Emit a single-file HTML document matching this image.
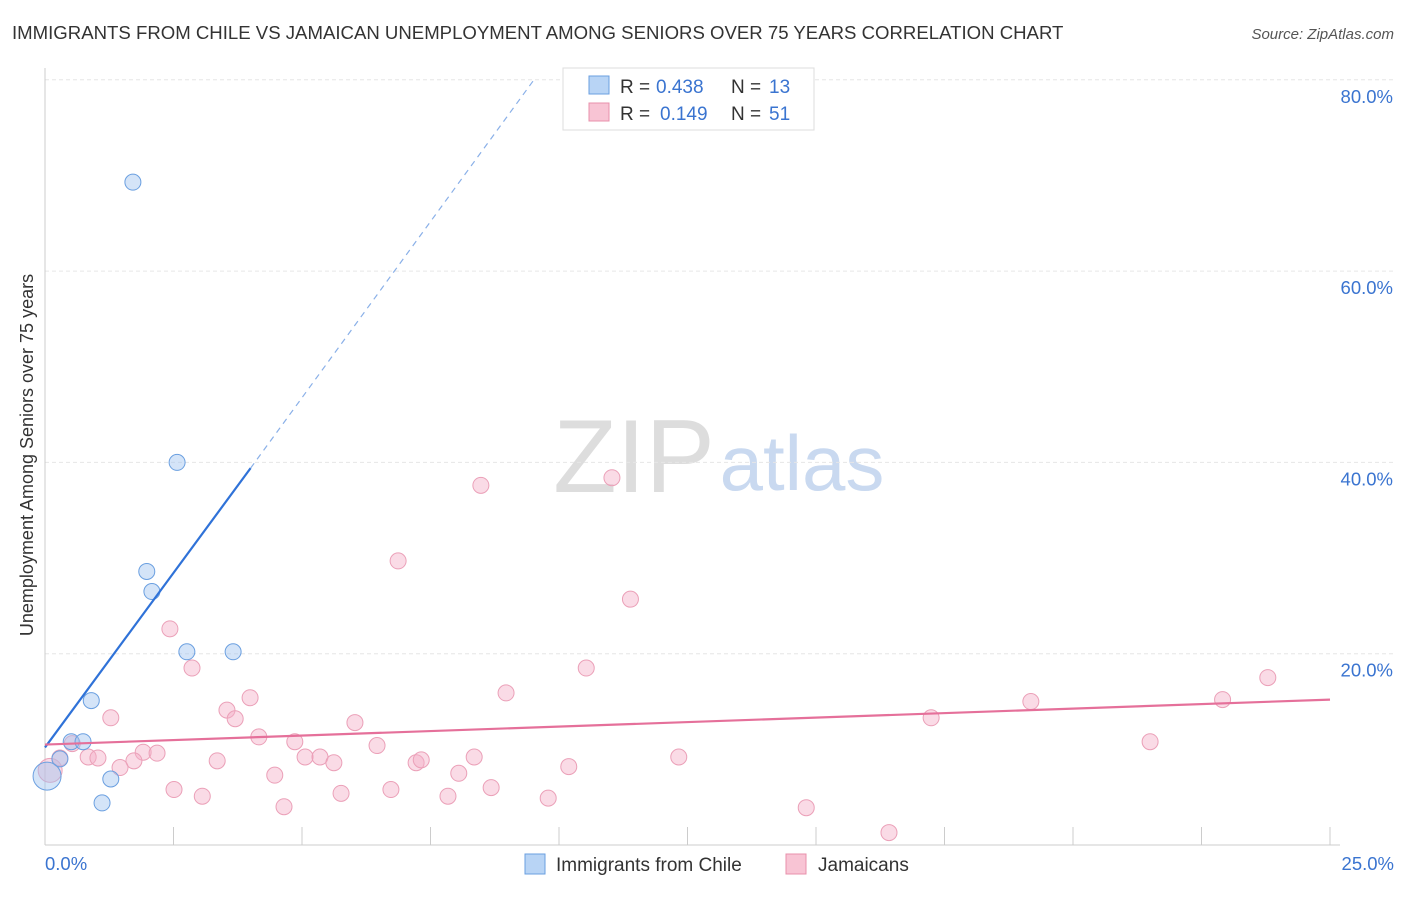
<!DOCTYPE html>
<html><head><meta charset="utf-8"><style>
body{margin:0;background:#fff;font-family:"Liberation Sans",sans-serif;}
svg text{font-family:"Liberation Sans",sans-serif;}
</style></head><body>
<svg id="c" width="1406" height="892" xmlns="http://www.w3.org/2000/svg">
<text x="12" y="39" font-size="18.6" fill="#333">IMMIGRANTS FROM CHILE VS JAMAICAN UNEMPLOYMENT AMONG SENIORS OVER 75 YEARS CORRELATION CHART</text>
<text x="1394" y="39" font-size="15" fill="#555" font-style="italic" text-anchor="end">Source: ZipAtlas.com</text>
<text x="634" y="492" font-size="104" fill="#ddd" font-family="Liberation Serif" text-anchor="middle">ZIP</text>
<text x="802" y="490" font-size="78" fill="#c9d9f0" text-anchor="middle">atlas</text>
<text transform="translate(33,455) rotate(-90)" font-size="18" fill="#333" text-anchor="middle">Unemployment Among Seniors over 75 years</text>
<g id="grid"></g><g id="marks"></g>
<g>
<rect x="563" y="68" width="251" height="62" fill="#fff" stroke="#ddd"/>
<rect x="589" y="76" width="20" height="18" fill="#b8d4f5" stroke="#6a9fe0"/>
<text x="620" y="93" font-size="19" fill="#333">R =</text>
<text x="656" y="93" font-size="19" fill="#3a74d0">0.438</text>
<text x="731" y="93" font-size="19" fill="#333">N =</text>
<text x="769" y="93" font-size="19" fill="#3a74d0">13</text>
<rect x="589" y="103" width="20" height="18" fill="#f8c4d4" stroke="#e890ab"/>
<text x="620" y="120" font-size="19" fill="#333">R =</text>
<text x="660" y="120" font-size="19" fill="#3a74d0">0.149</text>
<text x="731" y="120" font-size="19" fill="#333">N =</text>
<text x="769" y="120" font-size="19" fill="#3a74d0">51</text>
</g>
<g>
<rect x="525" y="854" width="20" height="20" fill="#b8d4f5" stroke="#6a9fe0"/>
<text x="556" y="871" font-size="19" fill="#333">Immigrants from Chile</text>
<rect x="786" y="854" width="20" height="20" fill="#f8c4d4" stroke="#e890ab"/>
<text x="818" y="871" font-size="19" fill="#333">Jamaicans</text>
</g>
</svg>
<script>
const yTicks=[20,40,60,80];
const xTicks=[0,2.5,5,7.5,10,12.5,15,17.5,20,22.5,25];
const chileX=[1.71,2.57,1.98,2.08,2.76,3.66,0.90,0.51,0.74,0.29,1.28,1.11,0.04];
const chileY=[69.3,40.0,28.6,26.5,20.2,20.2,15.1,10.8,10.8,9.0,6.9,4.4,7.2];
const chileR=[8,8,8,8,8,8,8,8,8,8,8,8,14];
const jamX=[8.48,11.03,6.87,11.39,2.43,2.86,10.53,3.99,8.97,1.28,3.54,3.70,6.03,23.79,22.91,19.18,17.24,21.50,4.16,4.86,6.46,0.53,1.91,2.18,0.84,1.03,5.06,5.35,1.73,3.35,5.62,7.22,7.32,8.35,1.46,10.19,12.33,4.47,8.05,2.51,3.06,5.76,6.73,8.68,7.84,9.79,4.65,14.81,16.42,0.10,0.29];
const jamY=[37.6,38.4,29.7,25.7,22.6,18.5,18.5,15.4,15.9,13.3,14.1,13.2,12.8,17.5,15.2,15.0,13.3,10.8,11.3,10.8,10.4,10.6,9.7,9.6,9.2,9.1,9.2,9.2,8.8,8.8,8.6,8.6,8.9,9.2,8.1,8.2,9.2,7.3,7.5,5.8,5.1,5.4,5.8,6.0,5.1,4.9,4.0,3.9,1.3,7.8,9.1];
const chileLine=[[0,10.2],[4.0,39.4]], chileDash=[[4.0,39.4],[9.54,80.2]];
const jamLine=[[0,10.5],[25,15.2]];
const NS='http://www.w3.org/2000/svg';
const xs=v=>45+v/25*1285, ys=v=>845-v/20*191.3;
function mk(t,a,p){const e=document.createElementNS(NS,t);for(const k in a)e.setAttribute(k,a[k]);p.appendChild(e);return e;}
const g=document.getElementById('grid'), m=document.getElementById('marks');
yTicks.forEach(v=>{const l=mk('line',{x1:45,x2:1395,y1:ys(v),y2:ys(v),stroke:'#e6e6e6','stroke-dasharray':'4,3'},g);

const t=mk('text',{x:1393,y:ys(v)+23,'font-size':18.5,fill:'#3a74d0','text-anchor':'end'},g);t.textContent=v.toFixed(1)+'%';
});
const ax=mk('line',{x1:45,x2:45,y1:68,y2:845,stroke:'#ccc'},g);
const bx=mk('line',{x1:45,x2:1340,y1:845,y2:845,stroke:'#ccc'},g);
xTicks.forEach(v=>{const l=mk('line',{x1:xs(v),x2:xs(v),y1:827,y2:845,stroke:'#ccc'},g);});
[[0,'start',45],[25,'end',1394]].forEach(([v,a,x])=>{const t=mk('text',{x:x,y:870,'font-size':18.5,fill:'#3a74d0','text-anchor':a},g);t.textContent=v.toFixed(1)+'%';
});
jamX.forEach((v,i)=>{const c=mk('circle',{cx:xs(v),cy:ys(jamY[i]),r:i==49?12:8,fill:'rgba(245,175,200,0.45)',stroke:'#eba0b8','stroke-width':1},m);
});
chileX.forEach((v,i)=>{const c=mk('circle',{cx:xs(v),cy:ys(chileY[i]),r:chileR[i],fill:'rgba(160,195,240,0.45)',stroke:'#6a9fe0','stroke-width':1},m);
});
const l1=mk('line',{x1:xs(chileLine[0][0]),y1:ys(chileLine[0][1]),x2:xs(chileLine[1][0]),y2:ys(chileLine[1][1]),stroke:'#2f72d8','stroke-width':2.2},m);

const l2=mk('line',{x1:xs(chileDash[0][0]),y1:ys(chileDash[0][1]),x2:xs(chileDash[1][0]),y2:ys(chileDash[1][1]),stroke:'#8ab0e8','stroke-width':1.2,'stroke-dasharray':'6,5'},m);

const l3=mk('line',{x1:xs(jamLine[0][0]),y1:ys(jamLine[0][1]),x2:xs(jamLine[1][0]),y2:ys(jamLine[1][1]),stroke:'#e5709a','stroke-width':2.2},m);

</script>
</body></html>
